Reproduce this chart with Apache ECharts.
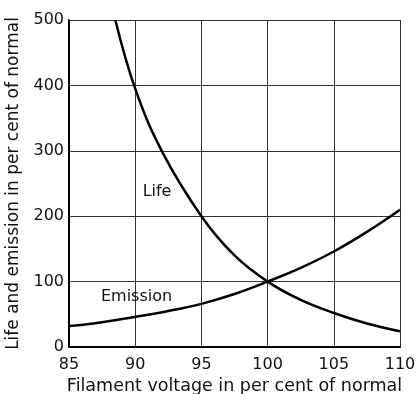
<!DOCTYPE html>
<html><head><meta charset="utf-8">
<script src="https://cdn.jsdelivr.net/npm/echarts@6/dist/echarts.min.js"></script>
<style>html,body{margin:0;padding:0;background:#fff}#c{width:416px;height:394px}</style>
</head><body><div id="c"></div>
<script>
const xTicks = [85, 90, 95, 100, 105, 110];
const yTicks = [0, 100, 200, 300, 400, 500];
const lifeV = [88.5, 90, 92, 95, 97.5, 100, 102.5, 105, 107.5, 110];
const lifeY = [500, 395, 300, 200, 140, 100, 72, 52, 36, 24];
const emisV = [85, 87.5, 90, 92.5, 95, 97.5, 100, 102.5, 105, 107.5, 110];
const emisY = [32, 38, 46, 55, 66, 81, 100, 121, 146, 176, 210];
const labels = [{name: 'Life', x: 91.65, y: 238}, {name: 'Emission', x: 90.1, y: 77}];

const font = 'DejaVu Sans';
const chart = echarts.init(document.getElementById('c'));
const gridLine = {show: true, lineStyle: {color: '#333', width: 1}};
chart.setOption({
  animation: false,
  grid: {left: 69, right: 16, top: 20, bottom: 47, containLabel: false, outerBoundsMode: 'none'},
  xAxis: {
    type: 'value', min: xTicks[0], max: xTicks[xTicks.length-1], interval: 5,
    name: 'Filament voltage in per cent of normal', nameLocation: 'middle', nameGap: 26,
    nameTextStyle: {fontFamily: font, fontSize: 17.5, color: '#111'},
    axisLine: {lineStyle: {color: '#000', width: 2}},
    axisTick: {show: false},
    axisLabel: {fontFamily: font, fontSize: 16, color: '#111', margin: 10},
    splitLine: gridLine
  },
  yAxis: {
    type: 'value', min: yTicks[0], max: yTicks[yTicks.length-1], interval: 100,
    name: 'Life and emission in per cent of normal', nameLocation: 'middle', nameGap: 46,
    nameTextStyle: {fontFamily: font, fontSize: 17, color: '#111'},
    axisLine: {show: true, lineStyle: {color: '#000', width: 2}},
    axisTick: {show: false},
    axisLabel: {fontFamily: font, fontSize: 16, color: '#111', margin: 5},
    splitLine: gridLine
  },
  series: [
    {type: 'line', smooth: 0.4, symbol: 'none', data: lifeV.map((v,i)=>[v, lifeY[i]]),
     lineStyle: {color: '#000', width: 2.5},
     markPoint: {symbol: 'circle', symbolSize: 0, data: [{coord: [labels[0].x, labels[0].y],
       label: {show: true, formatter: labels[0].name, fontFamily: font, fontSize: 16, color: '#111', position: 'inside'}}]}},
    {type: 'line', smooth: 0.4, symbol: 'none', data: emisV.map((v,i)=>[v, emisY[i]]),
     lineStyle: {color: '#000', width: 2.5},
     markPoint: {symbol: 'circle', symbolSize: 0, data: [{coord: [labels[1].x, labels[1].y],
       label: {show: true, formatter: labels[1].name, fontFamily: font, fontSize: 16, color: '#111', position: 'inside'}}]}}
  ]
});
</script></body></html>
